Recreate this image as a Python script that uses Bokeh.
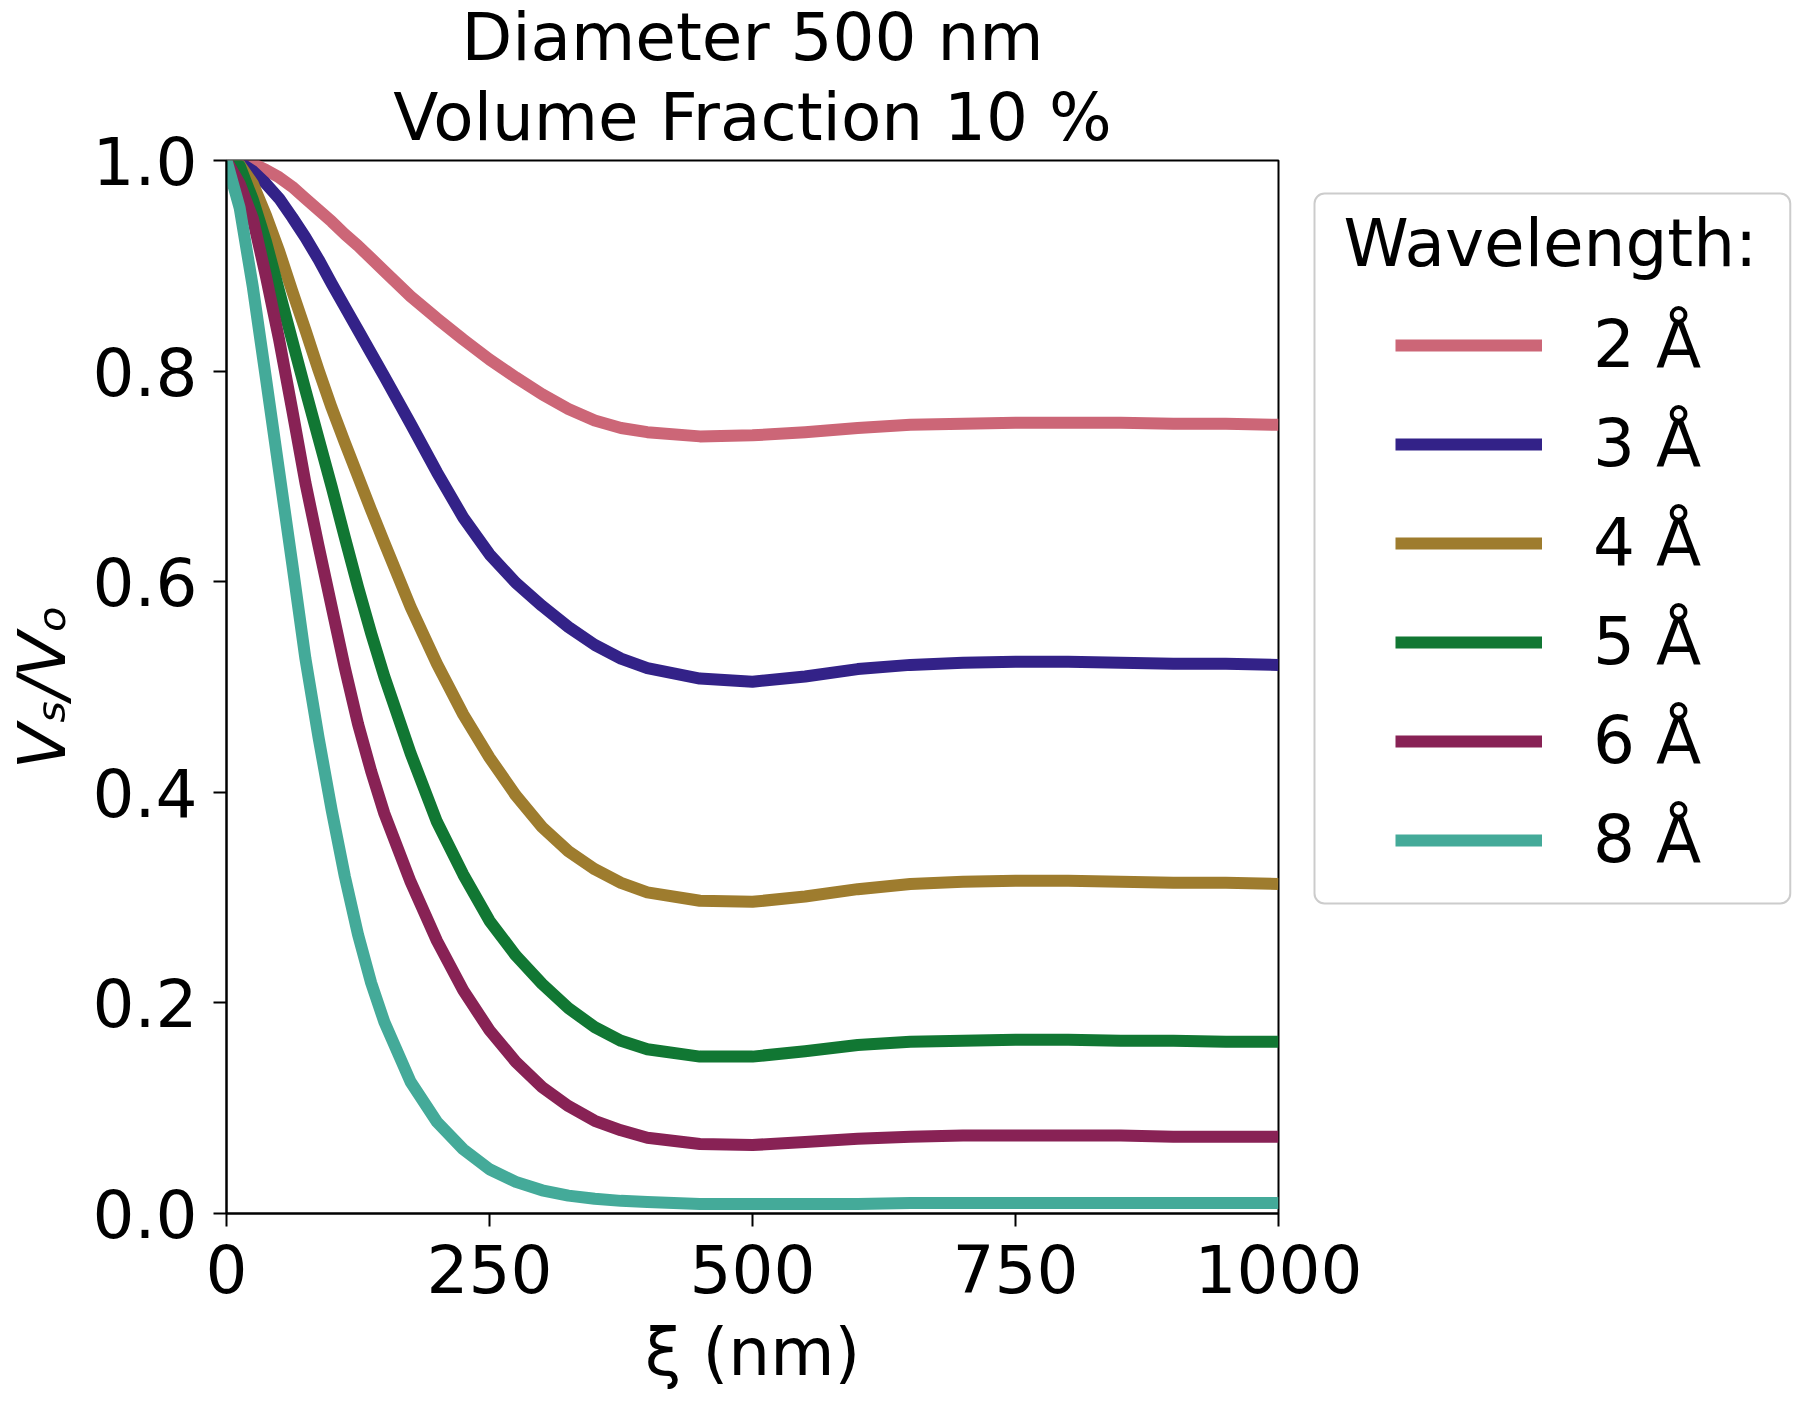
from bokeh.plotting import figure
from bokeh.layouts import row
from bokeh.models import (Range1d, FixedTicker, NumeralTickFormatter, Legend,
                          LegendItem, Title, Label)
from bokeh.embed import file_html
from bokeh.resources import INLINE

# ---------------- data ----------------
xi = [0, 12.5, 25, 37.5, 50, 62.5, 75, 87.5, 100, 112.5, 125, 137.5, 150, 175,
      200, 225, 250, 275, 300, 325, 350, 375, 400, 450, 500, 550, 600, 650, 700,
      750, 800, 850, 900, 950, 1000]

wl_2 = [1.000, 0.999, 0.997, 0.991, 0.984, 0.975, 0.964, 0.953, 0.942,
        0.930, 0.919, 0.907, 0.895,
        0.871, 0.850, 0.830, 0.811, 0.794, 0.778, 0.764, 0.753, 0.746, 0.742,
        0.738, 0.739, 0.742, 0.746, 0.749, 0.750, 0.751, 0.751, 0.751, 0.750,
        0.750, 0.749]
wl_3 = [1.000, 0.998, 0.990, 0.978, 0.964, 0.946, 0.927, 0.906, 0.883,
        0.861, 0.839, 0.817, 0.795,
        0.750, 0.704, 0.661, 0.626, 0.599, 0.577, 0.557, 0.540, 0.527, 0.518,
        0.508, 0.505, 0.510, 0.517, 0.521, 0.523, 0.524, 0.524, 0.523, 0.522,
        0.522, 0.521]
wl_4 = [1.000, 0.996, 0.978, 0.948, 0.914, 0.876, 0.839, 0.801, 0.765,
        0.732, 0.700, 0.668, 0.637,
        0.576, 0.522, 0.474, 0.433, 0.397, 0.367, 0.344, 0.327, 0.314, 0.305,
        0.297, 0.296, 0.301, 0.308, 0.313, 0.315, 0.316, 0.316, 0.315, 0.314,
        0.314, 0.313]
wl_5 = [1.000, 0.995, 0.963, 0.923, 0.876, 0.829, 0.782, 0.736, 0.690,
        0.642, 0.595, 0.551, 0.510,
        0.437, 0.372, 0.322, 0.278, 0.245, 0.218, 0.195, 0.177, 0.164, 0.156,
        0.149, 0.149, 0.154, 0.160, 0.163, 0.164, 0.165, 0.165, 0.164, 0.164,
        0.163, 0.163]
wl_6 = [1.000, 0.978, 0.945, 0.890, 0.830, 0.763, 0.694, 0.634, 0.576,
        0.518, 0.465, 0.420, 0.380,
        0.315, 0.259, 0.212, 0.174, 0.144, 0.120, 0.102, 0.088, 0.079, 0.072,
        0.066, 0.065, 0.068, 0.071, 0.073, 0.074, 0.074, 0.074, 0.074, 0.073,
        0.073, 0.073]
wl_8 = [1.000, 0.955, 0.880, 0.793, 0.705, 0.617, 0.527, 0.452, 0.383,
        0.320, 0.265, 0.219, 0.182,
        0.125, 0.087, 0.061, 0.042, 0.030, 0.022, 0.017, 0.014, 0.012, 0.011,
        0.009, 0.009, 0.009, 0.009, 0.010, 0.010, 0.010, 0.010, 0.010, 0.010,
        0.010, 0.010]

series = [wl_2, wl_3, wl_4, wl_5, wl_6, wl_8]
labels = ["2 Å", "3 Å", "4 Å", "5 Å", "6 Å", "8 Å"]
colors = ["#CC6677", "#332288", "#9E7C2E", "#117733", "#882255", "#44AA99"]

x_ticks = [0, 250, 500, 750, 1000]
y_ticks = [0.0, 0.2, 0.4, 0.6, 0.8, 1.0]

FONT = "DejaVu Sans"
FS = "66px"
LW = 12

# ---------------- main figure ----------------
p = figure(width=1800, height=1401, output_backend="svg", toolbar_location=None,
           x_range=Range1d(0, 1000), y_range=Range1d(0, 1.0),
           min_border_left=226, min_border_right=522, min_border_top=160,
           min_border_bottom=188)
p.xgrid.visible = False
p.ygrid.visible = False
p.outline_line_color = "black"
p.outline_line_width = 2
p.outline_line_alpha = 1.0
p.background_fill_color = "white"
p.border_fill_color = "white"

for ys, c in zip(series, colors):
    p.line(xi, ys, line_color=c, line_width=LW, line_cap="butt",
           line_join="round")

for ax in (p.xaxis[0], p.yaxis[0]):
    ax.axis_line_width = 2
    ax.axis_line_color = "black"
    ax.major_tick_line_width = 2
    ax.major_tick_line_color = "black"
    ax.major_tick_out = 13
    ax.major_tick_in = 0
    ax.minor_tick_line_color = None
    ax.major_label_text_font = FONT
    ax.major_label_text_font_size = FS
    ax.major_label_text_color = "black"
    ax.axis_label_text_font = FONT
    ax.axis_label_text_font_size = FS
    ax.axis_label_text_color = "black"

p.xaxis.ticker = FixedTicker(ticks=x_ticks)
p.yaxis.ticker = FixedTicker(ticks=y_ticks)
p.xaxis.formatter = NumeralTickFormatter(format="0")
p.yaxis.formatter = NumeralTickFormatter(format="0.0")
p.xaxis.major_label_standoff = 17
p.yaxis.major_label_standoff = 16
p.xaxis.axis_label = "ξ (nm)"
p.yaxis.axis_label = "Vₛ/Vₒ"
p.xaxis.axis_label_text_font_style = "normal"
p.yaxis.axis_label_text_font_style = "italic"
p.xaxis.axis_label_standoff = 18
p.yaxis.axis_label_standoff = 9

t2 = Title(text="Volume Fraction 10 %", align="center", text_font=FONT,
           text_font_size=FS, text_font_style="normal", text_color="black",
           standoff=10)
t1 = Title(text="Diameter 500 nm", align="center", text_font=FONT,
           text_font_size=FS, text_font_style="normal", text_color="black",
           standoff=-8)
p.add_layout(t2, "above")
p.add_layout(t1, "above")

# ---------------- legend panel (overlaid on the right part) ----------------
lg = figure(width=500, height=1401, output_backend="svg", toolbar_location=None,
            x_range=Range1d(0, 500), y_range=Range1d(0, 1.0),
            x_axis_type=None, y_axis_type=None, min_border=0)
lg.outline_line_color = None
lg.background_fill_color = None
lg.border_fill_color = None
lg.margin = (0, 0, 0, -500)

# hidden copies of the series, used only as legend handles
proxies = [lg.line(xi, ys, line_color=c, line_width=LW, line_cap="butt",
                   visible=False)
           for ys, c in zip(series, colors)]

frame_box = Label(x=14, y=1020, x_units="screen", y_units="screen",
                  text="Wavelength:", text_align="left", text_baseline="top",
                  text_font=FONT, text_font_size=FS, text_color="black",
                  border_line_color="#cccccc", border_line_width=2,
                  border_radius=10,
                  padding=dict(left=29, right=33, top=11, bottom=622))
lg.add_layout(frame_box)

items = [LegendItem(label=l, renderers=[r]) for l, r in zip(labels, proxies)]
legend = Legend(items=items, location=(95, 335), glyph_width=147,
                glyph_height=40, label_standoff=51, spacing=22, padding=0,
                margin=0, border_line_alpha=0, background_fill_alpha=0,
                inactive_fill_alpha=0,
                label_text_font=FONT, label_text_font_size=FS,
                label_text_color="black")
lg.add_layout(legend)

layout = row(p, lg)
open("out.html", "w").write(file_html(layout, INLINE))
